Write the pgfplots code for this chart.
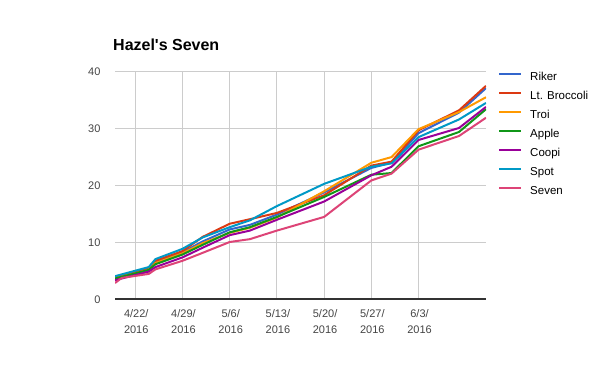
\documentclass[border=0pt]{standalone}
\usepackage{fontspec}
\setmainfont{Liberation Sans}
\usepackage{pgfplots}
\pgfplotsset{compat=1.18}
\definecolor{riker}{HTML}{3366CC}
\definecolor{broccoli}{HTML}{DC3912}
\definecolor{troi}{HTML}{FF9900}
\definecolor{apple}{HTML}{109618}
\definecolor{coopi}{HTML}{990099}
\definecolor{spot}{HTML}{0099C6}
\definecolor{seven}{HTML}{DD4477}
\definecolor{gridc}{HTML}{CCCCCC}
\definecolor{tickc}{HTML}{444444}
\begin{document}
\begin{tikzpicture}[x=1pt,y=1pt]
\path[use as bounding box] (0,0) rectangle (600,-371);
\node[anchor=base west, inner sep=0pt, font=\bfseries\fontsize{16}{18}\selectfont] at (113,-51) {Hazel\textquotesingle s Seven};
\begin{axis}[
  at={(115pt,-299pt)}, anchor=south west,
  scale only axis, width=371pt, height=228pt,
  xmin=0, xmax=55, ymin=0, ymax=40,
  xtick={3,10,17,24,31,38,45},
  xticklabels={{4/22/\\2016},{4/29/\\2016},{5/6/\\2016},{5/13/\\2016},{5/20/\\2016},{5/27/\\2016},{6/3/\\2016}},
  ytick={0,10,20,30,40},
  grid=major,
  major grid style={draw=gridc, line width=1pt},
  axis line style={draw=none},
  major tick length=0pt,
  /pgf/number format/assume math mode=true,
  ticklabel style={font=\fontsize{11}{16}\selectfont, text=tickc},
  xticklabel style={align=center, yshift=-7pt, xshift=1pt},
  yticklabel style={xshift=-11pt, yshift=-1pt},
  legend style={at={(1,1)}, anchor=north west, xshift=12pt, yshift=3pt,
    draw=none, fill=none, inner sep=0pt, column sep=8pt,
    font=\fontsize{11.5}{14}\selectfont,
    nodes={inner sep=0pt, text height=12pt, text depth=7pt}},
  legend cell align=left,
  legend image code/.code={\draw[line width=2pt] (0pt,4pt) -- (22pt,4pt);},
  every axis plot/.append style={line width=2pt, line join=round},
]
\addplot[riker] coordinates {(0,3.7) (5,5.3) (6,6.5) (10,8.2) (13,10.1) (17,12.2) (20,13.0) (24,14.8) (31,18.7) (38,23.0) (41,23.9) (45,29.1) (51,32.7) (55,37.0)};
\addlegendentry{Riker}
\addplot[broccoli] coordinates {(0,3.8) (5,5.4) (6,6.7) (10,8.4) (13,10.9) (17,13.2) (20,14.0) (24,15.1) (31,18.2) (38,23.4) (41,24.1) (45,29.6) (51,33.1) (55,37.4)};
\addlegendentry{Lt. Broccoli}
\addplot[troi] coordinates {(0,3.6) (5,5.1) (6,6.3) (10,8.0) (13,9.8) (17,11.6) (20,12.5) (24,14.3) (31,18.9) (38,23.9) (41,24.9) (45,29.8) (51,32.8) (55,35.4)};
\addlegendentry{Troi}
\addplot[apple] coordinates {(0,3.6) (5,5.1) (6,6.1) (10,7.8) (13,9.5) (17,11.7) (20,12.6) (24,14.4) (31,17.9) (38,21.8) (41,22.1) (45,26.8) (51,29.3) (55,33.3)};
\addlegendentry{Apple}
\addplot[coopi] coordinates {(0,3.3) (5,4.8) (6,5.6) (10,7.3) (13,9.0) (17,11.2) (20,12.0) (24,13.9) (31,17.1) (38,21.7) (41,23.2) (45,27.9) (51,30.0) (55,33.7)};
\addlegendentry{Coopi}
\addplot[spot] coordinates {(0,4.0) (5,5.6) (6,7.0) (10,8.8) (13,10.8) (17,12.6) (20,13.8) (24,16.3) (31,20.2) (38,23.2) (41,23.8) (45,28.4) (51,31.5) (55,34.4)};
\addlegendentry{Spot}
\addplot[seven] coordinates {(0,2.8) (1,3.7) (5,4.4) (6,5.2) (10,6.7) (13,8.1) (17,10.0) (20,10.5) (24,12.0) (31,14.4) (38,20.8) (41,22.0) (45,26.2) (51,28.6) (55,31.8)};
\addlegendentry{Seven}
\draw[draw=black!80, line width=1.5pt] (rel axis cs:0,0) -- (rel axis cs:1,0);
\end{axis}
\end{tikzpicture}
\end{document}
